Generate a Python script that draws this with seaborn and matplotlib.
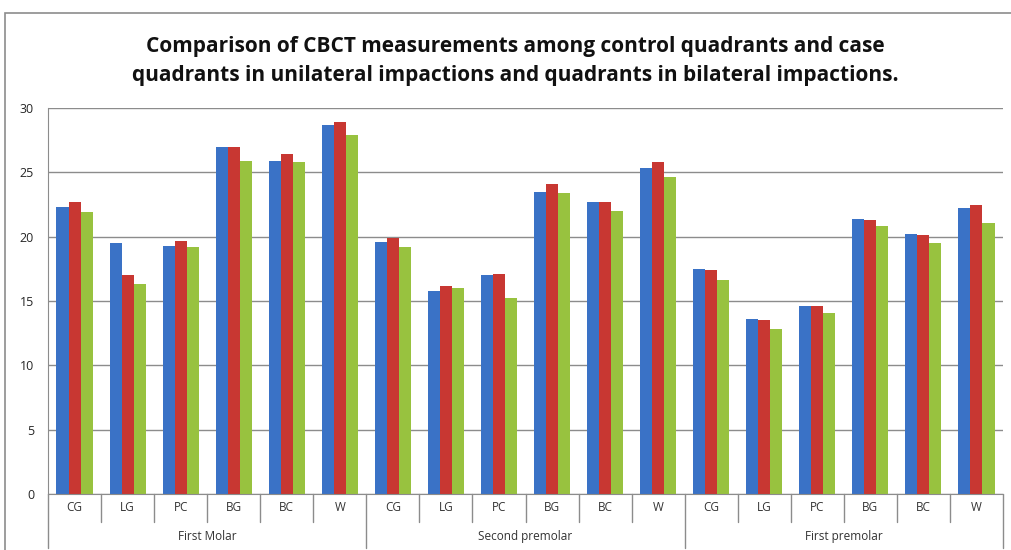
import pandas as pd
import matplotlib
matplotlib.use("Agg")
import matplotlib.pyplot as plt
import matplotlib.patches as mpatches
import seaborn as sns

# -------------------------------
# Data
# -------------------------------
groups = ["First Molar", "Second premolar", "First premolar"]
measures = ["CG", "LG", "PC", "BG", "BC", "W"]
series_names = ["Control quadrants", "Unilateral cases", "Bilateral cases"]

control = [22.3, 19.5, 19.3, 27.0, 25.9, 28.7,
           19.6, 15.8, 17.0, 23.5, 22.7, 25.3,
           17.5, 13.6, 14.6, 21.4, 20.2, 22.2]
unilateral = [22.7, 17.0, 19.7, 27.0, 26.4, 28.9,
              19.9, 16.2, 17.1, 24.1, 22.7, 25.8,
              17.4, 13.5, 14.6, 21.3, 20.1, 22.5]
bilateral = [21.9, 16.3, 19.2, 25.9, 25.8, 27.9,
             19.2, 16.0, 15.2, 23.4, 22.0, 24.6,
             16.6, 12.8, 14.1, 20.8, 19.5, 21.1]

colors = ["#3a72c6", "#c83732", "#98c23f"]

# build a long table for seaborn
cats = [g + "|" + m for g in groups for m in measures]
rows = []
for name, vals in zip(series_names, [control, unilateral, bilateral]):
    for c, v in zip(cats, vals):
        rows.append({"cat": c, "series": name, "value": v})
df = pd.DataFrame(rows)

# -------------------------------
# Plot
# -------------------------------
sns.set_style("white")
plt.rcParams["font.family"] = ["Open Sans", "DejaVu Sans"]

fig = plt.figure(figsize=(10.11, 5.5), dpi=100)
ax = fig.add_axes([48 / 1011, 1 - 494 / 550, 955 / 1011, 386 / 550])

sns.barplot(data=df, x="cat", y="value", hue="series", order=cats,
            palette=colors, width=0.68, gap=0, saturation=1,
            edgecolor="none", legend=False, ax=ax)

ax.set_ylim(0, 30)
ax.set_xlim(-0.5, len(cats) - 0.5)
ax.set_yticks(range(0, 31, 5))
ax.yaxis.grid(True, color="#8c8c8c", linewidth=1)
ax.set_axisbelow(True)
ax.tick_params(axis="y", labelsize=9, length=4, color="#8c8c8c", pad=6)
ax.tick_params(axis="x", length=0)
ax.set_xticks([])
ax.set_xlabel("")
ax.set_ylabel("")
for s in ["top", "right"]:
    ax.spines[s].set_visible(False)
ax.spines["left"].set_color("#8c8c8c")
ax.spines["bottom"].set_color("#8c8c8c")

# category labels and separators below the axis
trans = ax.get_xaxis_transform()
for i, c in enumerate(cats):
    ax.text(i, -0.036, c.split("|")[1], transform=trans, ha="center",
            va="center", fontsize=8.5, color="#333333")
for i in range(len(cats) + 1):
    long_line = i % len(measures) == 0
    y_end = -0.14 if long_line else -0.072
    ax.plot([i - 0.5, i - 0.5], [0, y_end], transform=trans,
            color="#8c8c8c", linewidth=1, clip_on=False)
for j, g in enumerate(groups):
    mid = j * len(measures) + (len(measures) - 1) / 2
    ax.text(mid, -0.11, g, transform=trans, ha="center", va="center",
            fontsize=8.5, color="#333333")

# outer chart border
fig.patches.append(mpatches.Rectangle((5 / 1011, -0.01), 1.02, 1 - 13 / 550 + 0.01,
                                      transform=fig.transFigure, fill=False,
                                      edgecolor="#8c8c8c", linewidth=1.2))

fig.text(0.51, 1 - 61 / 550,
         "Comparison of CBCT measurements among control quadrants and case\n"
         "quadrants in unilateral impactions and quadrants in bilateral impactions.",
         ha="center", va="center", fontsize=15, fontweight="bold",
         linespacing=1.45, color="#111111")

fig.savefig("out.png", dpi=100)
